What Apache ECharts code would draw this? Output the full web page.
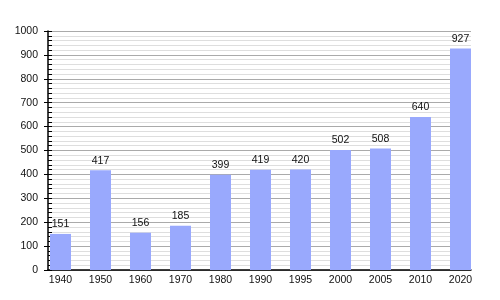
<!DOCTYPE html>
<html><head><meta charset="utf-8">
<script src="https://cdn.jsdelivr.net/npm/echarts@6/dist/echarts.min.js"></script>
<style>html,body{margin:0;padding:0;background:#fff}#c{width:500px;height:300px}</style>
</head><body><div id="c"></div>
<script>
const categories = ['1940','1950','1960','1970','1980','1990','1995','2000','2005','2010','2020'];
const population = [151,417,156,185,399,419,420,502,508,640,927];
const yMin = 0, yMax = 1000, yStep = 100;

const chart = echarts.init(document.getElementById('c'), null, {renderer:'canvas'});
const font = 'Liberation Sans, Arial, sans-serif';
chart.setOption({
  animation:false,
  backgroundColor:'#fff',
  grid:[
    {left:48, right:29, top:31, bottom:30},
    {left:60.5, right:39.5, top:31, bottom:30}
  ],
  xAxis:[
    {type:'value', gridIndex:0, min:0, max:1, axisLine:{show:true, onZero:false, lineStyle:{color:'#000', width:1.5}},
     axisTick:{show:false}, axisLabel:{show:false}, splitLine:{show:false}},
    {type:'category', gridIndex:1, data:categories, boundaryGap:false,
     axisLine:{show:false}, axisTick:{show:false},
     axisLabel:{margin:5, fontSize:10.5, color:'#111', fontFamily:font}, splitLine:{show:false}}
  ],
  yAxis:[
    {type:'value', gridIndex:0, min:yMin, max:yMax, interval:yStep, position:'left',
     axisLine:{show:true, lineStyle:{color:'#000', width:1.5}},
     axisTick:{show:true, length:4, lineStyle:{color:'#000'}},
     axisLabel:{margin:10, fontSize:10.5, color:'#111', fontFamily:font, formatter:v=>String(v)},
     splitLine:{show:true, lineStyle:{color:'#aaa', width:1}},
     minorTick:{show:false},
     minorSplitLine:{show:true, lineStyle:{color:'#dedede', width:1}}
    },
    {type:'value', gridIndex:0, min:yMin, max:yMax, interval:yStep, position:'left', offset:0,
     axisLine:{show:false},
     axisTick:{show:true, inside:true, length:4, lineStyle:{color:'#000'}},
     minorTick:{show:true, splitNumber:5, length:4, lineStyle:{color:'#000'}},
     axisLabel:{show:false}, splitLine:{show:false}
    },
    {type:'value', gridIndex:1, min:yMin, max:yMax, show:false, splitLine:{show:false}}
  ],
  series:[{
    type:'bar', xAxisIndex:1, yAxisIndex:2, data:population, barWidth:21,
    itemStyle:{color:'#99a9fd'},
    label:{show:true, position:'top', distance:4, fontSize:10.5, color:'#111', fontFamily:font}
  }]
});
</script></body></html>
